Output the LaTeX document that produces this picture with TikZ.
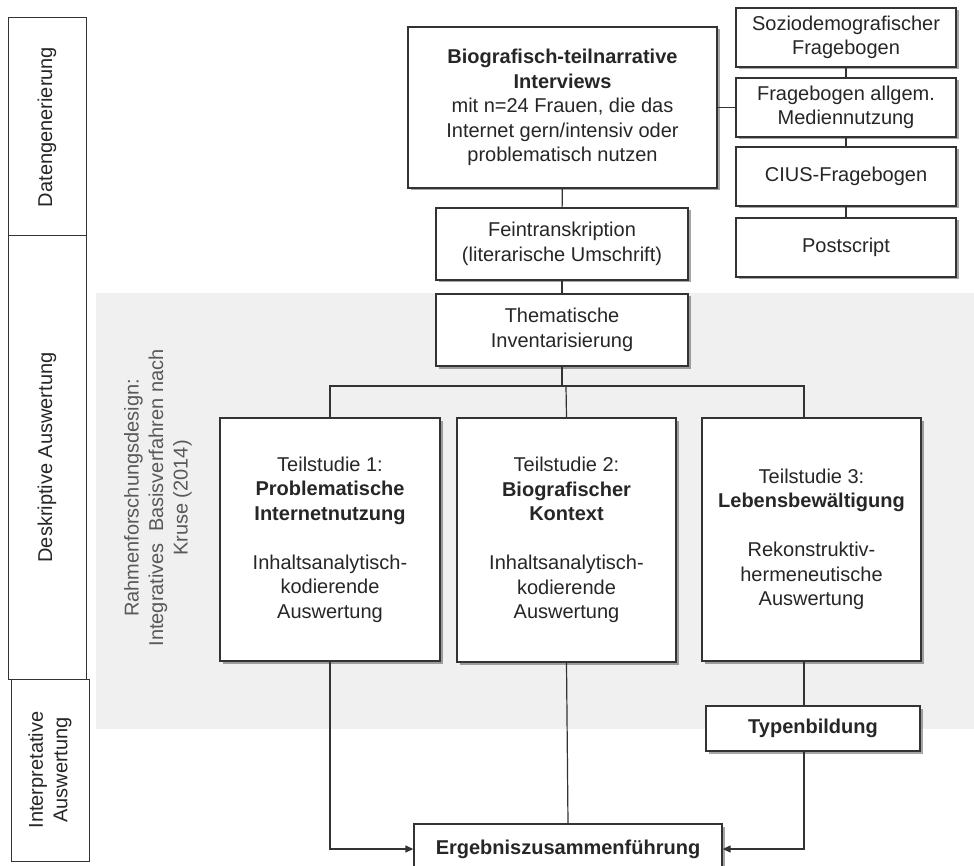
\documentclass[tikz,border=0pt]{standalone}
\usepackage{fontspec}
\setmainfont{Liberation Sans}
\usetikzlibrary{arrows.meta,shadows}
\begin{document}
\begin{tikzpicture}[x=1pt, y=-1pt,
		font=\fontsize{20}{24.5}\selectfont,
		box/.style={draw=black!80, line width=1.3pt, fill=white, text=black!85, align=center, inner sep=0pt,
			drop shadow={shadow xshift=2.5pt, shadow yshift=-2.5pt, fill=black, opacity=0.35}},
		sidebox/.style={draw=black!80, line width=1pt, rotate=90, align=center, inner sep=0pt, minimum height=78, text=black!85},
		conn/.style={draw=black!80, line width=1.2pt},
		arrow/.style={conn, -{Triangle[length=8pt,width=7pt]}}]
		\clip (0,0) rectangle (974,866);
		\fill[black!6] (96,293) rectangle (974,729);
		
		\node[sidebox, minimum width=218] (daten) at (47,127) {Datengenerierung};
		\node[sidebox, minimum width=443] (deskr) at (47,457.5) {Deskriptive Auswertung};
		\node[sidebox, minimum width=182] (interp) at (50,770) {Interpretative\\Auswertung};
		\node[rotate=90, align=center, text=black!65] (rahmen) at (158,498) {Rahmenforschungsdesign:\\Integratives\ \ Basisverfahren nach\\Kruse (2014)};
		
		\node[box, minimum width=309, minimum height=161] (interview) at (562.5,107.5) {\textbf{Biografisch-teilnarrative}\\\textbf{Interviews}\\mit n=24 Frauen, die das\\Internet gern/intensiv oder\\problematisch nutzen};
		\node[box, minimum width=220, minimum height=59] (sozio) at (846,37.5) {Soziodemografischer\\Fragebogen};
		\node[box, minimum width=220, minimum height=59] (frage) at (846,107.5) {Fragebogen allgem.\\Mediennutzung};
		\node[box, minimum width=220, minimum height=59] (cius) at (846,176.5) {CIUS-Fragebogen};
		\node[box, minimum width=220, minimum height=59] (post) at (846,247.5) {Postscript};
		\node[box, minimum width=252, minimum height=72] (fein) at (562,244) {Feintranskription\\(literarische Umschrift)};
		\node[box, minimum width=252, minimum height=72] (them) at (562,330) {Thematische\\Inventarisierung};
		
		\node[box, minimum width=220, minimum height=243] (t1) at (330,539.5) {Teilstudie 1:\\\textbf{Problematische}\\\textbf{Internetnutzung}\\[24.5pt]Inhaltsanalytisch-\\kodierende\\Auswertung};
		\node[box, minimum width=219, minimum height=244] (t2) at (566.5,540) {Teilstudie 2:\\\textbf{Biografischer}\\\textbf{Kontext}\\[24.5pt]Inhaltsanalytisch-\\kodierende\\Auswertung};
		\node[box, minimum width=219, minimum height=243] (t3) at (811.5,539.5) {Teilstudie 3:\\\textbf{Lebensbewältigung}\\[24.5pt]Rekonstruktiv-\\hermeneutische\\Auswertung};
		\node[box, minimum width=214, minimum height=45] (typen) at (813,728.5) {\textbf{Typenbildung}};
		\node[box, minimum width=308, minimum height=50] (ergebnis) at (568,849) {\textbf{Ergebniszusammenführung}};
		
		\coordinate (split) at (566,386);
		\coordinate (rline) at (804,386);
		
		\draw[conn] (interview) -- (fein);
		\draw[conn] (fein) -- (them);
		\draw[conn] (interview.east) -- (frage.west);
		\draw[conn] (sozio.south) -- (frage.north);
		\draw[conn] (frage.south) -- (cius.north);
		\draw[conn] (cius.south) -- (post.north);
		\draw[conn] (them.south) -- (them.south |- split);
		\draw[conn] (t1.north) |- (split) -- (rline) -- (rline |- t3.north);
		\draw[conn] (split) -- (t2.north);
		\draw[arrow] (t1.south) |- (ergebnis.west);
		\draw[conn] (t2.south) -- (ergebnis.north);
		\draw[conn] (t3.south -| rline) -- (rline |- typen.north);
		\draw[arrow] (typen.south -| rline) |- (ergebnis.east);
	\end{tikzpicture}
\end{document}
